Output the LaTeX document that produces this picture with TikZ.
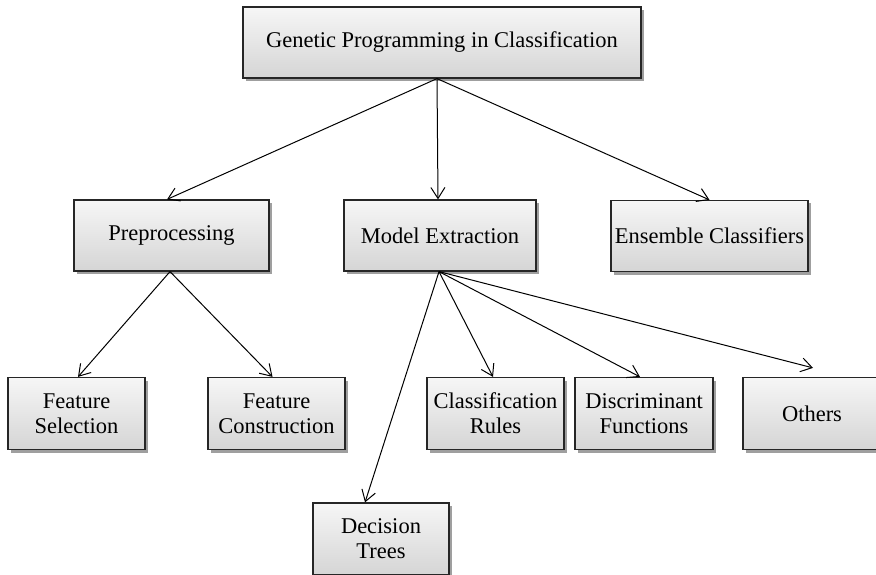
\documentclass[tikz,border=0pt]{standalone}
\usepackage{fontspec}
\setmainfont{Liberation Serif}
\newfontfamily\boxfont{Liberation Serif}
\usetikzlibrary{shadows,arrows.meta}

\begin{document}
\begin{tikzpicture}[x=1pt,y=-1pt,
    box/.style={draw=black!85, line width=1.2pt, top color=gray!7, bottom color=gray!33,
        drop shadow={shadow xshift=3pt, shadow yshift=-3pt, fill=gray!75, opacity=1},
        minimum height=71pt, inner sep=0pt, align=center,
        font=\boxfont\fontsize{22.5}{25}\selectfont},
    arr/.style={-{Straight Barb[length=11pt,width=14pt]}, line width=1pt}]
    \useasboundingbox (0,0) rectangle (876,575);
    % top level
    \node[box, minimum width=398pt] (gp) at (442,42.5) {Genetic Programming in Classification};
    % second level
    \node[box, minimum width=195pt] (pre) at (171.5,235.5) {Preprocessing};
    \node[box, minimum width=192pt] (me) at (440,235.5) {Model Extraction};
    \node[box, minimum width=197pt] (ens) at (709.5,236) {Ensemble Classifiers};
    % third level
    \node[box, minimum width=137pt, minimum height=72pt] (fs) at (76.5,413.5) {Feature\\Selection};
    \node[box, minimum width=137pt, minimum height=72pt] (fc) at (276.5,413.5) {Feature\\Construction};
    \node[box, minimum width=137pt, minimum height=72pt] (cr) at (495.5,413.5) {Classification\\Rules};
    \node[box, minimum width=138pt, minimum height=72pt] (df) at (644,413.5) {Discriminant\\Functions};
    \node[box, minimum width=138pt, minimum height=72pt] (oth) at (812,413.5) {Others};
    \node[box, minimum width=136pt, minimum height=72pt] (dt) at (381,539) {Decision\\Trees};
    % arrows
    \draw[arr] ([xshift=-5pt]gp.south) -- ([xshift=-4.5pt]pre.north);
    \draw[arr] ([xshift=-5pt]gp.south) -- ([xshift=-2pt]me.north);
    \draw[arr] ([xshift=-5pt]gp.south) -- (ens.north);
    \draw[arr] ([xshift=-1.5pt]pre.south) -- ([xshift=1.5pt]fs.north);
    \draw[arr] ([xshift=-1.5pt]pre.south) -- ([xshift=-4pt]fc.north);
    \draw[arr] ([xshift=-1pt]me.south) -- ([xshift=-16pt]dt.north);
    \draw[arr] ([xshift=-1pt]me.south) -- ([xshift=-2.5pt]cr.north);
    \draw[arr] ([xshift=-1pt]me.south) -- ([xshift=-4pt]df.north);
    \draw[arr] ([xshift=-1pt]me.south) -- ([xshift=1pt,yshift=9pt]oth.north);
\end{tikzpicture}
\end{document}
